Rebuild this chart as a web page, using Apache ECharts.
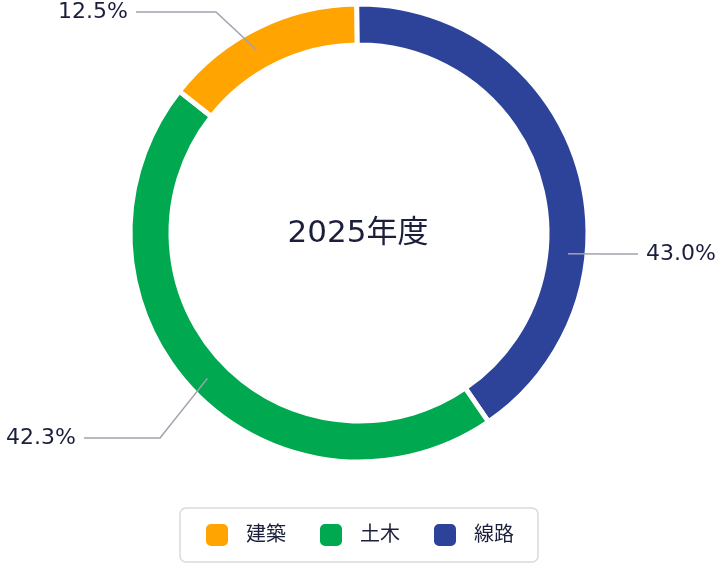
<!DOCTYPE html>
<html>
<head>
<meta charset="utf-8">
<script src="https://cdn.jsdelivr.net/npm/echarts@6/dist/echarts.min.js"></script>
<style>
  html, body { margin: 0; padding: 0; background: #fff; }
  #chart { width: 722px; height: 564px; }
</style>
</head>
<body>
<div id="chart"></div>
<script>
// 区分（時計回り、上から）
const categories = ['線路', '土木', '建築'];
// 扇形の大きさ（図から読んだ角度の割合）
const sectorValues = [40.6, 45.2, 14.2];
// 表示ラベル
const shareLabels = ['43.0%', '42.3%', '12.5%'];
const legendOrder = ['建築', '土木', '線路'];
const colors = ['#2d4399', '#00a94f', '#ffa400'];
const centerTitle = '2025年度';

const FONT = 'Inter, "Noto Sans CJK JP", sans-serif';
const NUM_FONT = '"DejaVu Sans", "Noto Sans CJK JP", sans-serif';
const CX = 359, CY = 233;

// ラベル位置（アンカー角度は上から時計回り）
const labelPos = [
  { angle: 95.7, elbow: [603, 254], end: [638, 254], side: 'right' },
  { angle: 226.2, elbow: [160, 438], end: [84, 438], side: 'left' },
  { angle: 330.8, elbow: [216, 12], end: [136, 12], side: 'left' }
];

function anchorPoint(deg, r) {
  const rad = deg * Math.PI / 180;
  return [CX + r * Math.sin(rad), CY - r * Math.cos(rad)];
}

const chart = echarts.init(document.getElementById('chart'));

const pieData = categories.map((name, i) => ({ name, value: sectorValues[i] }));

chart.setOption({
  animation: false,
  color: colors,
  legend: {
    data: legendOrder,
    bottom: 2,
    left: 180,
    itemWidth: 24,
    itemHeight: 24,
    itemGap: 32,
    padding: [14, 24, 14, 24],
    borderColor: '#d9d9df',
    borderWidth: 1.5,
    borderRadius: 6,
    icon: 'roundRect',
    itemStyle: { borderRadius: 4 },
    textStyle: { fontSize: 20, color: '#1b1f3b', fontFamily: FONT, padding: [0, 0, 0, 12] }
  },
  graphic: [{
    type: 'text',
    x: 358,
    y: 234,
    style: {
      text: centerTitle,
      fontSize: 31,
      fontFamily: NUM_FONT,
      fill: '#1b1f3b',
      align: 'center',
      verticalAlign: 'middle'
    }
  }],
  series: [{
    // リング本体
    type: 'pie',
    z: 2,
    center: [CX, CY],
    radius: [188, 229],
    startAngle: 90.6,
    silent: true,
    itemStyle: { borderColor: '#fff', borderWidth: 5 },
    label: { show: false },
    labelLine: { show: false },
    data: pieData
  }, {
    // ラベル用（透明、リングの上に線を描く）
    type: 'pie',
    z: 3,
    center: [CX, CY],
    radius: [188, 229],
    startAngle: 90.6,
    silent: true,
    legendHoverLink: false,
    itemStyle: { color: 'rgba(0,0,0,0)' },
    label: {
      show: true,
      formatter: (p) => shareLabels[p.dataIndex],
      fontSize: 22,
      fontFamily: NUM_FONT,
      color: '#1b1f3b'
    },
    labelLine: {
      show: true,
      lineStyle: { color: '#a2a2ae', width: 1.5 }
    },
    labelLayout: (params) => {
      const lp = labelPos[params.dataIndex];
      const a = anchorPoint(lp.angle, 210);
      return {
        x: lp.side === 'right' ? lp.end[0] + 8 : lp.end[0] - 8,
        y: lp.end[1],
        align: lp.side === 'right' ? 'left' : 'right',
        verticalAlign: 'middle',
        labelLinePoints: [a, lp.elbow, lp.end]
      };
    },
    data: pieData
  }]
});
</script>
</body>
</html>
